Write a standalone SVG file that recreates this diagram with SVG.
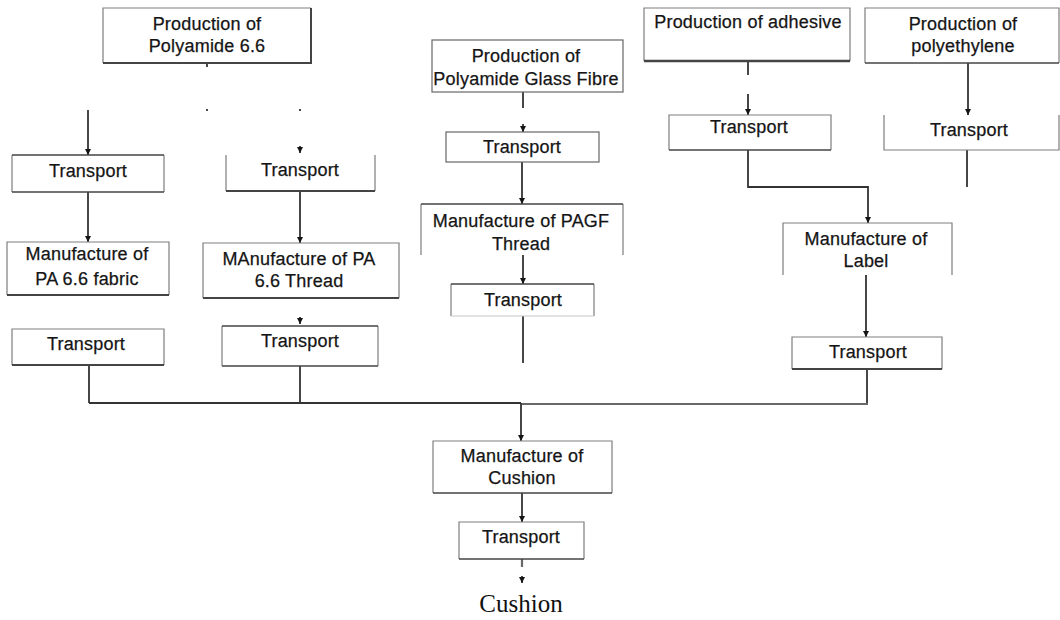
<svg xmlns="http://www.w3.org/2000/svg" width="1060" height="620" viewBox="0 0 1060 620">
  <style>
    .frame { fill: none; stroke: #7e7e7e; stroke-width: 1.2; }
    .shade { fill: none; stroke: #444444; stroke-width: 2; }
    .bg { fill: #ffffff; stroke: none; }
    .lbl { font-family: "Liberation Sans", Arial, sans-serif; font-size: 18px; fill: #151515; stroke: #151515; stroke-width: 0.25; text-anchor: middle; letter-spacing: 0.2px; }
    .wire { fill: none; stroke: #333333; stroke-width: 1.8; }
    .wire-light { fill: none; stroke: #686868; stroke-width: 2.2; }
    .final { font-family: "Liberation Serif", "Times New Roman", serif; font-size: 25px; fill: #111; text-anchor: middle; }
  </style>
  <defs>
    <marker id="head" viewBox="0 0 6 6" markerWidth="6" markerHeight="6" refX="6" refY="3" orient="auto" markerUnits="userSpaceOnUse">
      <path d="M0,0 L6,3 L0,6 z" fill="#151515"/>
    </marker>
  </defs>
  <rect width="1060" height="620" fill="#ffffff"/>

  <!-- connectors -->
  <g id="connectors">
    <!-- polyamide 6.6 branch -->
    <line class="wire" x1="207" y1="63" x2="207" y2="67"/>
    <line class="wire" x1="207" y1="109" x2="207" y2="111"/>
    <line class="wire" x1="300" y1="109" x2="300" y2="111"/>
    <line class="wire" x1="300" y1="146" x2="300" y2="153" marker-end="url(#head)"/>
    <line class="wire" x1="88" y1="110" x2="88" y2="155" marker-end="url(#head)"/>
    <line class="wire" x1="88" y1="192" x2="88" y2="242" marker-end="url(#head)"/>
    <line class="wire" x1="300" y1="191" x2="300" y2="243" marker-end="url(#head)"/>
    <line class="wire" x1="300" y1="317" x2="300" y2="324" marker-end="url(#head)"/>
    <line class="wire" x1="89" y1="365" x2="89" y2="403"/>
    <line class="wire" x1="300" y1="366" x2="300" y2="403"/>
    <!-- glass fibre branch -->
    <line class="wire" x1="523" y1="92" x2="523" y2="108"/>
    <line class="wire" x1="523" y1="124" x2="523" y2="132" marker-end="url(#head)"/>
    <line class="wire" x1="522" y1="162" x2="522" y2="204" marker-end="url(#head)"/>
    <line class="wire" x1="523" y1="255" x2="523" y2="284" marker-end="url(#head)"/>
    <line class="wire" x1="523" y1="316" x2="523" y2="363"/>
    <!-- adhesive / polyethylene branch -->
    <line class="wire" x1="748" y1="62" x2="748" y2="75"/>
    <line class="wire" x1="748" y1="94" x2="748" y2="115" marker-end="url(#head)"/>
    <path class="wire" d="M748,150 V187 H868 V223" marker-end="url(#head)"/>
    <line class="wire" x1="968" y1="63" x2="968" y2="115" marker-end="url(#head)"/>
    <line class="wire" x1="967" y1="150" x2="967" y2="187"/>
    <line class="wire" x1="866" y1="275" x2="866" y2="337" marker-end="url(#head)"/>
    <line class="wire" x1="867" y1="369" x2="867" y2="404"/>
    <!-- collecting bus -->
    <line class="wire" x1="89" y1="403" x2="521" y2="403"/>
    <line class="wire-light" x1="521" y1="404" x2="868" y2="404"/>
    <line class="wire" x1="521" y1="403" x2="521" y2="441" marker-end="url(#head)"/>
    <line class="wire" x1="522" y1="493" x2="522" y2="522" marker-end="url(#head)"/>
    <line class="wire-light" x1="522" y1="559" x2="522" y2="567"/>
    <line class="wire" x1="522" y1="576" x2="522" y2="583" marker-end="url(#head)"/>
  </g>

  <g id="prod-pa66">
    <rect class="bg" x="103" y="8" width="208" height="55"/>
    <path class="frame" d="M103,63 V8 H311"/>
    <path class="shade" d="M311,8 V63 H103"/>
    <text class="lbl" x="207" y="30">Production of</text>
    <text class="lbl" x="207" y="52">Polyamide 6.6</text>
  </g>

  <g id="transport-fabric-in">
    <rect class="bg" x="12" y="155" width="152" height="37"/>
    <path class="frame" d="M12,192 V155 M164,155 V192"/>
    <path class="shade" d="M12,155 H164 M12,192 H164" style="stroke-width:1.6"/>
    <text class="lbl" x="88" y="177">Transport</text>
  </g>

  <g id="transport-thread-in">
    <rect class="bg" x="226" y="155" width="149" height="36"/>
    <path class="frame" d="M226,155 V191 M375,155 V191"/>
    <path class="shade" d="M226,191 H375"/>
    <text class="lbl" x="300" y="176">Transport</text>
  </g>

  <g id="manuf-fabric">
    <rect class="bg" x="7" y="242" width="162" height="53"/>
    <path class="frame" d="M7,295 V242 H169 V295"/>
    <path class="shade" d="M7,295 H169"/>
    <text class="lbl" x="87" y="260">Manufacture of</text>
    <text class="lbl" x="87" y="285">PA 6.6 fabric</text>
  </g>

  <g id="manuf-thread">
    <rect class="bg" x="203" y="243" width="196" height="55"/>
    <path class="frame" d="M203,298 V243 H399 V298"/>
    <path class="shade" d="M203,298 H399"/>
    <text class="lbl" x="299" y="265">MAnufacture of PA</text>
    <text class="lbl" x="299" y="287">6.6 Thread</text>
  </g>

  <g id="transport-fabric-out">
    <rect class="bg" x="12" y="329" width="152" height="36"/>
    <path class="frame" d="M12,365 V329 H164 V365"/>
    <path class="shade" d="M12,365 H164"/>
    <text class="lbl" x="86" y="350">Transport</text>
  </g>

  <g id="transport-thread-out">
    <rect class="bg" x="222" y="326" width="156" height="40"/>
    <path class="frame" d="M222,366 V326 M378,326 V366"/>
    <path class="shade" d="M222,326 H378 M222,366 H378" style="stroke-width:1.6"/>
    <text class="lbl" x="300" y="347">Transport</text>
  </g>

  <g id="prod-pagf">
    <rect class="bg" x="432" y="40" width="191" height="52"/>
    <rect class="frame" x="432" y="40" width="191" height="52" style="stroke:#666"/>
    <text class="lbl" x="526" y="62">Production of</text>
    <text class="lbl" x="526" y="85">Polyamide Glass Fibre</text>
  </g>

  <g id="transport-pagf-in">
    <rect class="bg" x="446" y="132" width="153" height="30"/>
    <rect class="frame" x="446" y="132" width="153" height="30" style="stroke:#666"/>
    <text class="lbl" x="522" y="153">Transport</text>
  </g>

  <g id="manuf-pagf-thread">
    <rect class="bg" x="421" y="204" width="202" height="51"/>
    <path class="frame" d="M421,255 V204 M623,204 V255"/>
    <path class="shade" d="M421,204 H623" style="stroke-width:1.4"/>
    <text class="lbl" x="521" y="227">Manufacture of PAGF</text>
    <text class="lbl" x="521" y="250">Thread</text>
  </g>

  <g id="transport-pagf-out">
    <rect class="bg" x="451" y="284" width="143" height="32"/>
    <path class="frame" d="M451,316 V284 M594,284 V316"/>
    <path class="shade" d="M451,284 H594" style="stroke-width:1.4"/>
    <path d="M451,316 H594" stroke="#c8c8c8" stroke-width="1.2"/>
    <text class="lbl" x="523" y="306">Transport</text>
  </g>

  <g id="prod-adhesive">
    <rect class="bg" x="644" y="8" width="206" height="53"/>
    <path class="frame" d="M644,61 V8 H850 V61"/>
    <path class="shade" d="M644,61 H850" style="stroke-width:2.4"/>
    <text class="lbl" x="748" y="28">Production of adhesive</text>
  </g>

  <g id="transport-adhesive">
    <rect class="bg" x="669" y="115" width="162" height="35"/>
    <path class="frame" d="M669,150 V115 H831 V150"/>
    <path class="shade" d="M669,150 H831" style="stroke-width:1.4"/>
    <text class="lbl" x="749" y="133">Transport</text>
  </g>

  <g id="prod-polyethylene">
    <rect class="bg" x="865" y="8" width="194" height="55"/>
    <path class="frame" d="M865,63 V8 H1059 V63"/>
    <path class="shade" d="M865,63 H1059" style="stroke-width:1.6"/>
    <text class="lbl" x="963" y="30">Production of</text>
    <text class="lbl" x="963" y="52">polyethylene</text>
  </g>

  <g id="transport-polyethylene">
    <rect class="bg" x="884" y="115" width="175" height="35"/>
    <path class="frame" d="M884,115 V150 H1059 V115"/>
    <text class="lbl" x="969" y="136">Transport</text>
  </g>

  <g id="manuf-label">
    <rect class="bg" x="783" y="223" width="169" height="52"/>
    <path class="frame" d="M783,275 V223 H952 V275"/>
    <text class="lbl" x="866" y="245">Manufacture of</text>
    <text class="lbl" x="866" y="267">Label</text>
  </g>

  <g id="transport-label">
    <rect class="bg" x="792" y="337" width="150" height="32"/>
    <path class="frame" d="M792,369 V337 H942 V369"/>
    <path class="shade" d="M792,369 H942"/>
    <text class="lbl" x="868" y="358">Transport</text>
  </g>

  <g id="manuf-cushion">
    <rect class="bg" x="433" y="441" width="179" height="52"/>
    <path class="frame" d="M433,493 V441 H612 V493"/>
    <path class="shade" d="M433,493 H612" style="stroke-width:1.6"/>
    <text class="lbl" x="522" y="462">Manufacture of</text>
    <text class="lbl" x="522" y="484">Cushion</text>
  </g>

  <g id="transport-final">
    <rect class="bg" x="459" y="522" width="125" height="37"/>
    <path class="frame" d="M459,559 V522 H584 V559"/>
    <path class="shade" d="M459,559 H584" style="stroke-width:1.6"/>
    <text class="lbl" x="521" y="543">Transport</text>
  </g>

  <g id="product">
    <text class="final" x="521" y="612">Cushion</text>
  </g>
</svg>
